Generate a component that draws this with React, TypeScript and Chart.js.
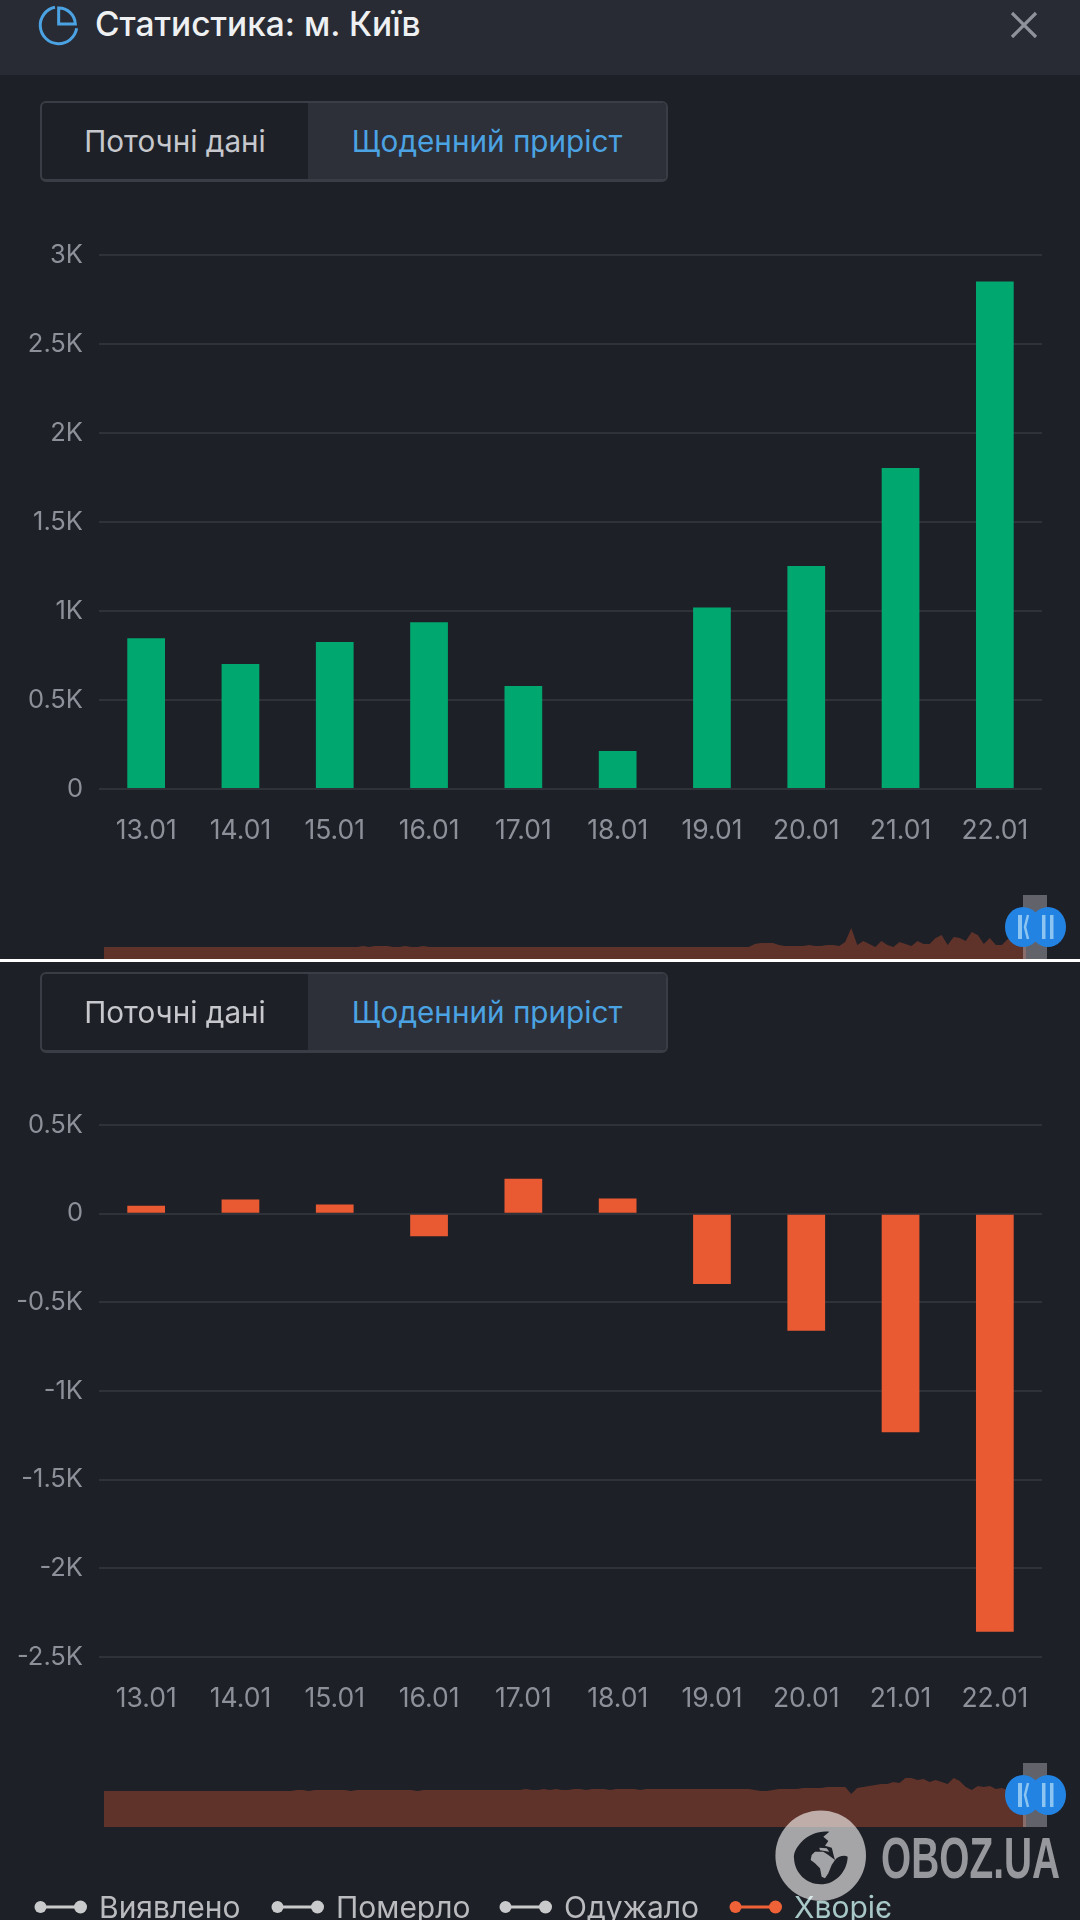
import React, { useEffect, useRef } from "react";
import { Chart, registerables } from "chart.js";

Chart.register(...registerables);

const FONT = "Inter, 'Noto Sans', sans-serif";
const BG = "#1e2027";

const categories = ["13.01", "14.01", "15.01", "16.01", "17.01", "18.01", "19.01", "20.01", "21.01", "22.01"];
const newCases = [847, 702, 826, 937, 578, 213, 1019, 1253, 1804, 2851];
const activeChange = [45, 80, 52, -128, 197, 86, -397, -660, -1233, -2358];

const overviewNew = [
  12, 12, 12, 12, 12, 12, 12, 12, 12, 12, 12, 12, 12, 12, 12, 12, 12, 12, 12, 12,
  12, 12, 12, 12, 12, 12, 12, 12, 12, 12, 12, 12, 12, 12, 12, 12, 12, 12, 12, 12,
  12, 12, 12, 13, 12, 13, 13, 13, 12, 12, 13, 12, 12, 13, 12, 12, 12, 12, 12, 12,
  12, 12, 12, 12, 12, 12, 12, 12, 12, 12, 12, 12, 12, 12, 12, 12, 12, 12, 12, 12,
  12, 12, 12, 12, 12, 12, 12, 12, 12, 12, 12, 12, 12, 12, 12, 12, 12, 12, 12,
  12, 12, 12, 12, 12, 12, 12, 12, 12, 15, 16, 16, 16, 14, 13, 13, 13, 13, 14, 13,
  13, 14, 14, 13, 17, 31, 14, 18, 15, 12, 18, 14, 12, 17, 15, 13, 18, 15, 15, 21,
  24, 14, 22, 21, 18, 27, 24, 15, 21, 14, 14, 20, 20, 18, 17,
];
const overviewActive = [
  36, 36, 36, 36, 36, 36, 36, 36, 36, 36, 36, 36, 36, 36, 36, 36, 36, 36, 36, 36,
  36, 36, 36, 36, 36, 36, 36, 36, 36, 36, 36, 36, 37, 37, 36, 37, 37, 37, 37, 37,
  37, 36, 37, 37, 37, 37, 37, 37, 37, 37, 37, 37, 36, 37, 37, 37, 37, 37, 37, 37,
  37, 37, 37, 37, 37, 37, 37, 37, 37, 37, 38, 37, 37, 38, 37, 38, 37, 37, 38, 38,
  37, 38, 38, 38, 37, 38, 38, 38, 38, 37, 38, 38, 38, 38, 38, 38, 38, 38, 38,
  38, 38, 38, 38, 38, 38, 38, 38, 38, 37, 36, 36, 37, 38, 38, 38, 38, 39, 39, 39,
  39, 40, 40, 40, 40, 33, 39, 40, 41, 42, 43, 43, 45, 44, 49, 49, 47, 48, 45, 47,
  45, 43, 49, 46, 40, 37, 41, 40, 41, 38, 39, 37, 37, 36, 36,
];

const legendItems = ["Виявлено", "Померло", "Одужало", "Хворіє"];
const tabLabels = ["Поточні дані", "Щоденний приріст"];
const TITLE = "Статистика: м. Київ";

function kLabel(v: any) {
  const n = Number(v);
  return n === 0 ? "0" : `${n / 1000}K`;
}

function BarPanel(props: { top: number; height: number; axisHeight: number; values: number[]; color: string; min: number; max: number }) {
  const ref = useRef<HTMLCanvasElement>(null);
  useEffect(() => {
    const chart = new Chart(ref.current!, {
      type: "bar",
      data: {
        labels: categories,
        datasets: [{ data: props.values, backgroundColor: props.color, barPercentage: 0.4, categoryPercentage: 1 }],
      },
      options: {
        animation: false,
        responsive: false,
        layout: { padding: { top: 25, right: 38, left: 0, bottom: 0 } },
        plugins: { legend: { display: false }, tooltip: { enabled: false } },
        scales: {
          x: {
            grid: { display: false, drawTicks: false },
            border: { display: false },
            ticks: { color: "#8d9099", font: { family: FONT, size: 26.5 }, padding: 26, maxRotation: 0, autoSkip: false },
            afterFit: (s: any) => { s.height = props.axisHeight; },
          },
          y: {
            min: props.min,
            max: props.max,
            grid: { color: "#30323a", lineWidth: 2, drawTicks: false },
            border: { display: false },
            ticks: { stepSize: 500, color: "#8d9099", font: { family: FONT, size: 25.5 }, padding: 16, callback: kLabel },
            afterFit: (s: any) => { s.width = 99; s.paddingTop = 0; s.paddingBottom = 0; },
          },
        },
      },
    } as any);
    return () => chart.destroy();
  }, []);
  return <canvas ref={ref} width={1080} height={props.height} style={{ position: "absolute", left: 0, top: props.top }} />;
}

function Overview(props: { top: number; values: number[] }) {
  const ref = useRef<HTMLCanvasElement>(null);
  useEffect(() => {
    const chart = new Chart(ref.current!, {
      type: "line",
      data: {
        labels: props.values.map((_, i) => String(i)),
        datasets: [{
          data: props.values,
          fill: "origin",
          backgroundColor: "rgba(232,90,50,0.32)",
          borderWidth: 0,
          pointRadius: 0,
          tension: 0,
        }],
      },
      options: {
        animation: false,
        responsive: false,
        plugins: { legend: { display: false }, tooltip: { enabled: false } },
        scales: { x: { display: false }, y: { display: false, min: 0, max: 60 } },
      },
    } as any);
    return () => chart.destroy();
  }, []);
  return <canvas ref={ref} width={922} height={60} style={{ position: "absolute", left: 104, top: props.top }} />;
}

function Tabs(props: { top: number }) {
  const base: React.CSSProperties = { position: "absolute", top: 0, height: "100%", display: "flex", alignItems: "center", justifyContent: "center", fontSize: 29.7, fontFamily: FONT };
  return (
    <div style={{ position: "absolute", left: 40, top: props.top, width: 628, height: 81, boxSizing: "border-box", border: "2px solid #3a3d45", borderBottomWidth: 3, borderRadius: 6, overflow: "hidden", background: "#1e2027" }}>
      <div style={{ ...base, left: 0, width: 266, color: "#c6c8cd" }}>{tabLabels[0]}</div>
      <div style={{ ...base, left: 266, right: 0, background: "#2d3038", color: "#4ba3e3" }}>{tabLabels[1]}</div>
    </div>
  );
}

function Handle(props: { top: number; bottom: number; cy: number }) {
  const { top, bottom, cy } = props;
  return (
    <svg width={1080} height={1920} style={{ position: "absolute", left: 0, top: 0, pointerEvents: "none" }}>
      <rect x={1023} y={top} width={24} height={bottom - top} fill="rgba(190,190,200,0.42)" />
      <ellipse cx={1023} cy={cy} rx={18} ry={20} fill="#2383e2" />
      <ellipse cx={1048} cy={cy} rx={18} ry={20} fill="#2383e2" />
      <rect x={1018} y={cy - 12} width={4} height={24} fill="#8cc4f2" />
      <path d={`M1028 ${cy - 12} L1025 ${cy} L1028 ${cy + 12}`} stroke="#8cc4f2" strokeWidth={2.5} fill="none" />
      <rect x={1042} y={cy - 12} width={3.5} height={24} fill="#8cc4f2" />
      <rect x={1050} y={cy - 12} width={3.5} height={24} fill="#8cc4f2" />
    </svg>
  );
}

function Legend() {
  const spots = [34, 271, 499, 729];
  const colors = ["#c9cacc", "#c9cacc", "#c9cacc", "#ef6237"];
  const textColors = ["#b9bbbf", "#b9bbbf", "#b9bbbf", "#a8c8c8"];
  return (
    <>
      {legendItems.map((t, i) => (
        <div key={t} style={{ position: "absolute", left: spots[i], top: 1889, height: 36, display: "flex", alignItems: "center", fontFamily: FONT, fontSize: 30, whiteSpace: "nowrap", color: textColors[i] }}>
          <svg width={54} height={16} style={{ marginRight: 11 }}>
            <line x1={6} y1={8} x2={47} y2={8} stroke={colors[i]} strokeWidth={3} />
            <circle cx={6.5} cy={8} r={6} fill={colors[i]} />
            <circle cx={46.5} cy={8} r={6.5} fill={colors[i]} />
          </svg>
          {t}
        </div>
      ))}
    </>
  );
}

function Watermark() {
  return (
    <svg width={1080} height={1920} style={{ position: "absolute", left: 0, top: 0, pointerEvents: "none" }}>
      <circle cx={820.7} cy={1855.7} r={45.3} fill="rgba(255,255,255,0.6)" />
      <g transform="translate(770 1805) scale(0.33333)">
        <path d="M178 80 C150 76 115 88 95 110 C78 128 70 145 72 160 C74 205 110 238 152 238 C196 238 232 200 233 155 C225 150 205 152 195 165 C190 150 188 135 185 128 L165 122 L175 108 L160 95 Z" fill={BG} />
        <path d="M125 150 L135 140 L160 140 L175 150 L195 165 L185 180 L175 205 L165 220 L155 215 L150 190 L135 175 L122 165 Z" fill="#a3a4a8" />
        <path d="M148 128 L170 130 L178 140 L150 136 Z" fill="#a3a4a8" />
      </g>
      <text x={881} y={1878} fontFamily="'Liberation Sans Narrow', 'Liberation Sans', sans-serif" fontWeight={700} fontSize={57} fill="#97989d" textLength={179} lengthAdjust="spacingAndGlyphs">OBOZ.UA</text>
    </svg>
  );
}

export default function App() {
  useEffect(() => {
    document.body.style.margin = "0";
    document.body.style.background = BG;
  }, []);
  return (
    <div style={{ position: "absolute", left: 0, top: 0, width: 1080, height: 1920, overflow: "hidden", background: BG }}>
      <div style={{ position: "absolute", left: 0, top: 0, width: 1080, height: 75, background: "#282b33" }} />
      <svg width={70} height={50} viewBox="0 0 210 150" style={{ position: "absolute", left: 30, top: 0 }}>
        <path d="M75 22 A55 55 0 1 0 140 85" stroke="#4ba3e3" strokeWidth={9} fill="none" />
        <path d="M86 24 A50 50 0 0 1 136 72 L86 72 Z" stroke="#4ba3e3" strokeWidth={9} fill="none" />
      </svg>
      <div style={{ position: "absolute", left: 95, top: 4, height: 40, lineHeight: "40px", fontFamily: FONT, fontSize: 33.5, fontWeight: 500, color: "#eef0f2", whiteSpace: "nowrap" }}>{TITLE}</div>
      <svg width={28} height={28} style={{ position: "absolute", left: 1010, top: 11 }}>
        <path d="M2 2 L26 26 M26 2 L2 26" stroke="#8f929b" strokeWidth={3.2} />
      </svg>

      <Tabs top={101} />
      <BarPanel top={230} height={660} axisHeight={101} values={newCases} color="#00a86f" min={0} max={3000} />
      <Overview top={899} values={overviewNew} />
      <Handle top={895} bottom={959} cy={927} />

      <div style={{ position: "absolute", left: 0, top: 959, width: 1080, height: 2.5, background: "#ffffff" }} />

      <Tabs top={972} />
      <BarPanel top={1100} height={660} axisHeight={103} values={activeChange} color="#e95a33" min={-2500} max={500} />
      <Overview top={1767} values={overviewActive} />
      <Handle top={1763} bottom={1827} cy={1795} />
      <Legend />
      <Watermark />
    </div>
  );
}
